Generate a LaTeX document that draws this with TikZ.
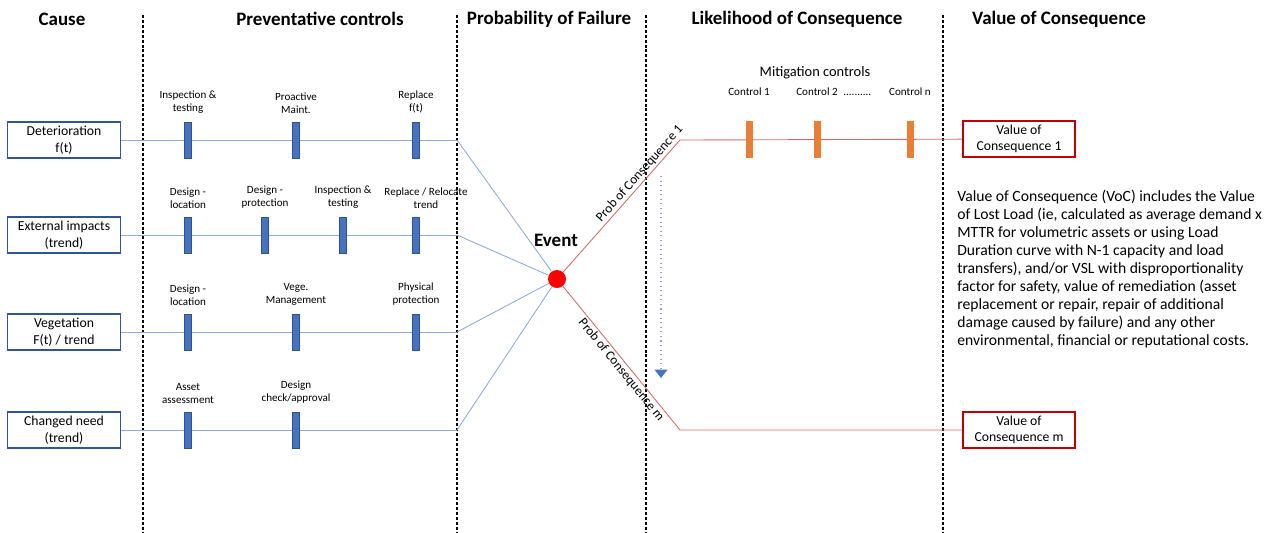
\documentclass[tikz,border=0pt]{standalone}
\usepackage{fontspec}
\setmainfont{Carlito}
\usetikzlibrary{arrows.meta, positioning, calc}
\definecolor{boxblue}{RGB}{47, 85, 151}
\definecolor{ctrlblue}{RGB}{68, 114, 196}
\definecolor{ctrledge}{RGB}{47, 82, 143}
\definecolor{linkblue}{RGB}{143, 170, 220}
\definecolor{linkred}{RGB}{214, 106, 106}
\definecolor{consred}{RGB}{192, 0, 0}
\definecolor{mitorange}{RGB}{237, 125, 49}

\begin{document}
\begin{tikzpicture}[x=0.02cm, y=-0.02cm,
        head/.style={font=\bfseries\fontsize{10.8}{12}\selectfont},
        cause/.style={draw=boxblue, line width=0.8pt, minimum width=2.26cm, minimum height=0.72cm, inner sep=0pt, align=center, font=\fontsize{7.8}{9.4}\selectfont},
        value/.style={cause, draw=consred, line width=1pt, minimum width=2.24cm},
        prev/.style={draw=ctrledge, fill=ctrlblue, line width=0.4pt, minimum width=0.13cm, minimum height=0.72cm, inner sep=0pt},
        mit/.style={fill=mitorange, minimum width=0.14cm, minimum height=0.74cm, inner sep=0pt},
        ctrllbl/.style={font=\fontsize{6.3}{7.4}\selectfont, align=center, inner sep=0pt},
        plink/.style={linkblue, line width=0.5pt},
        clink/.style={linkred, line width=0.5pt},
        divider/.style={dashed, dash pattern=on 1.7pt off 1.1pt, line width=0.6pt},
        problbl/.style={font=\fontsize{7.5}{8.5}\selectfont, inner sep=1pt},
        event/.style={circle, fill=red, minimum size=0.36cm, inner sep=0pt},
        flow/.style={linkblue!80!gray, dotted, line width=0.6pt, -{Triangle[width=2.6mm, length=1.7mm, color=ctrlblue, fill=ctrlblue]}},
        note/.style={font=\fontsize{8.9}{10.2}\selectfont, align=left, inner sep=0pt}
      ]
        \useasboundingbox (0,0) rectangle (1264,532);
        \foreach \x in {143,457,646,943} { \draw[divider] (\x,15) -- (\x,532); }

        \node[head] (h1) at (62,19)   {Cause};
        \node[head] (h2) at (320,19)  {Preventative controls};
        \node[head] (h3) at (549,19)  {Probability of Failure};
        \node[head] (h4) at (797,19)  {Likelihood of Consequence};
        \node[head] (h5) at (1059,19) {Value of Consequence};

        \node[cause] (c1) at (64,140) {Deterioration\\f(t)};
        \node[cause] (c2) at (64,235) {External impacts\\(trend)};
        \node[cause] (c3) at (64,332) {Vegetation\\F(t) / trend};
        \node[cause] (c4) at (64,430) {Changed need\\(trend)};
        \node[event] (ev) at (557,279) {};
        \node[head] (evl) at (556,240) {Event};

        \foreach \i/\y in {1/140,2/235,3/332,4/430} {
          \coordinate (j\i) at (457,\y);
          \draw[plink] (c\i) -- (j\i);
          \draw[plink] (j\i) -- (ev);
        }

        \foreach \x/\t [count=\k] in {188/{Inspection \&\\testing}, 296/{Proactive\\Maint.}, 416/{Replace\\f(t)}} {
          \node[prev] (p1\k) at (\x,140) {};
          \node[ctrllbl, above=1.6mm of p1\k] (q1\k) {\t};
        }
        \foreach \x/\s/\t [count=\k] in {188/0/{Design -\\location}, 265/0/{Design -\\protection}, 343/0/{Inspection \&\\testing}, 416/10/{Replace / Relocate\\trend}} {
          \node[prev] (p2\k) at (\x,235) {};
          \node[ctrllbl, above=1.6mm of p2\k, xshift=\s*0.02cm] (q2\k) {\t};
        }
        \foreach \x/\t [count=\k] in {188/{Design -\\location}, 296/{Vege.\\Management}, 416/{Physical\\protection}} {
          \node[prev] (p3\k) at (\x,332) {};
          \node[ctrllbl, above=1.6mm of p3\k] (q3\k) {\t};
        }
        \foreach \x/\t [count=\k] in {188/{Asset\\assessment}, 296/{Design\\check/approval}} {
          \node[prev] (p4\k) at (\x,430) {};
          \node[ctrllbl, above=1.6mm of p4\k] (q4\k) {\t};
        }

        \coordinate (k1) at (680,140);
        \coordinate (km) at (680,430);
        \node[value] (v1) at (1019,139) {Value of\\Consequence 1};
        \node[value] (vm) at (1019,430) {Value of\\Consequence m};
        \draw[clink] (ev) -- (k1) -- (v1);
        \draw[clink] (ev) -- (km) -- (vm);
        \path (ev.center) -- (k1) node[problbl, pos=0.72, sloped, above] (pc1) {Prob of Consequence 1};
        \path (ev.center) -- (km) node[problbl, pos=0.57, sloped, below] (pcm) {Prob of Consequence m};

        \node[font=\fontsize{8.2}{9}\selectfont] (mt) at (815,73) {Mitigation controls};
        \foreach \x/\t [count=\k] in {749/{Control 1}, 817/{Control 2}, 910/{Control n}} {
          \node[mit] (m\k) at (\x,139) {};
          \node[ctrllbl, above=4.8mm of m\k] (n\k) {\t};
        }
        \node[ctrllbl, anchor=base west] (dots) at ([xshift=1mm]n2.base east) {..........};

        \coordinate (a0) at (661,176);
        \coordinate (a1) at (661,378);
        \draw[flow] (a0) -- (a1);

        \node[note, anchor=north west] (voc) at (957,190) {Value of Consequence (VoC) includes the Value\\
          of Lost Load (ie, calculated as average demand x\\
          MTTR for volumetric assets or using Load\\
          Duration curve with N-1 capacity and load\\
          transfers), and/or VSL with disproportionality\\
          factor for safety, value of remediation (asset\\
          replacement or repair, repair of additional\\
          damage caused by failure) and any other\\
          environmental, financial or reputational costs.};
      \end{tikzpicture}
\end{document}
